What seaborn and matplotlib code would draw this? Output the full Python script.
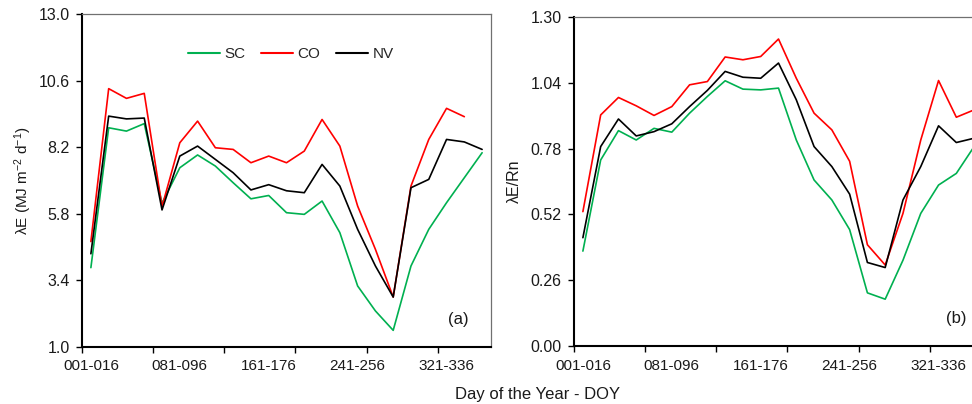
import matplotlib
matplotlib.use("Agg")
import matplotlib.pyplot as plt
import seaborn as sns
import pandas as pd

periods = ["001-016", "017-032", "033-048", "049-064", "065-080", "081-096",
           "097-112", "113-128", "129-144", "145-160", "161-176", "177-192",
           "193-208", "209-224", "225-240", "241-256", "257-272", "273-288",
           "289-304", "305-320", "321-336", "337-352", "353-365"]
tick_labels = ["001-016", "081-096", "161-176", "241-256", "321-336"]

# Panel (a): latent heat flux, MJ m-2 d-1
le_sc = [3.86, 8.90, 8.78, 9.05, 6.18, 7.46, 7.92, 7.52, 6.92, 6.34, 6.46, 5.84,
         5.78, 6.26, 5.12, 3.20, 2.30, 1.60, 3.92, 5.24, 6.20, 7.10, 8.00]
le_co = [4.80, 10.31, 9.96, 10.14, 6.06, 8.36, 9.14, 8.18, 8.12, 7.64, 7.88, 7.64,
         8.06, 9.20, 8.24, 6.08, 4.52, 2.80, 6.80, 8.48, 9.60, 9.30]
le_nv = [4.36, 9.32, 9.22, 9.25, 5.94, 7.88, 8.24, 7.76, 7.28, 6.66, 6.85, 6.63,
         6.56, 7.58, 6.80, 5.24, 3.92, 2.80, 6.74, 7.04, 8.48, 8.39, 8.12]

# Panel (b): evaporative fraction lambdaE/Rn
ef_sc = [0.375, 0.735, 0.851, 0.814, 0.860, 0.845, 0.920, 0.986, 1.048, 1.015, 1.012, 1.019,
         0.814, 0.656, 0.577, 0.460, 0.210, 0.185, 0.339, 0.524, 0.636, 0.682, 0.788]
ef_co = [0.531, 0.913, 0.982, 0.949, 0.911, 0.946, 1.032, 1.045, 1.142, 1.131, 1.144, 1.213,
         1.058, 0.920, 0.854, 0.730, 0.400, 0.320, 0.524, 0.814, 1.049, 0.904, 0.933]
ef_nv = [0.428, 0.788, 0.897, 0.830, 0.847, 0.878, 0.946, 1.010, 1.085, 1.062, 1.058, 1.118,
         0.973, 0.788, 0.709, 0.600, 0.330, 0.310, 0.577, 0.709, 0.870, 0.804, 0.821]

series = ["SC", "CO", "NV"]
colors = {"SC": "#00B050", "CO": "#FF0000", "NV": "#000000"}


def long_frame(sc, co, nv):
    rows = []
    for name, vals in zip(series, [sc, co, nv]):
        for i, v in enumerate(vals):
            rows.append({"idx": i, "period": periods[i], "value": v, "series": name})
    return pd.DataFrame(rows)


df_a = long_frame(le_sc, le_co, le_nv)
df_b = long_frame(ef_sc, ef_co, ef_nv)

sns.set_theme(style="white")
plt.rcParams["font.family"] = ["Liberation Sans", "DejaVu Sans"]
plt.rcParams["mathtext.fontset"] = "custom"
plt.rcParams["mathtext.rm"] = "Liberation Sans"
plt.rcParams["mathtext.it"] = "Liberation Sans"

fig = plt.figure(figsize=(9.72, 4.04), dpi=100)
ax_a = fig.add_axes([82 / 972, 1 - 347 / 404, 409 / 972, 333 / 404])
ax_b = fig.add_axes([574 / 972, 1 - 346 / 404, 409 / 972, 329 / 404])

for ax, df in [(ax_a, df_a), (ax_b, df_b)]:
    sns.lineplot(data=df, x="idx", y="value", hue="series", hue_order=series,
                 palette=colors, linewidth=1.2, ax=ax, legend=(ax is ax_a),
                 estimator=None, sort=True)
    ax.set_xlim(-0.5, 22.5)
    label_pos = [periods.index(t) for t in tick_labels]
    ax.set_xticks(label_pos)
    ax.set_xticklabels(tick_labels, fontsize=11, color="#1a1a1a")
    ax.set_xticks([-0.5 + 4 * k for k in range(6)], minor=True)
    ax.tick_params(axis="x", which="major", length=0, pad=9)
    ax.tick_params(axis="x", which="minor", length=4, width=1, color="black",
                   direction="out", bottom=True)
    ax.tick_params(axis="y", which="major", length=4, width=1, color="black",
                   direction="out", left=True, labelsize=11.5, labelcolor="#1a1a1a", pad=5)
    for side in ["left", "bottom"]:
        ax.spines[side].set_color("black")
        ax.spines[side].set_linewidth(1.5)
    for side in ["top", "right"]:
        ax.spines[side].set_color("#707070")
        ax.spines[side].set_linewidth(0.9)
    ax.set_xlabel("")
    ax.grid(False)

ax_a.set_ylim(1.0, 13.0)
ax_a.set_yticks([1.0, 3.4, 5.8, 8.2, 10.6, 13.0])
ax_a.set_yticklabels([f"{v:.1f}" for v in [1.0, 3.4, 5.8, 8.2, 10.6, 13.0]])
ax_a.set_ylabel(r"λE (MJ m$^{-2}$ d$^{-1}$)", fontsize=11, labelpad=3, color="#1a1a1a")

ax_b.set_ylim(0.0, 1.30)
ax_b.set_yticks([0.0, 0.26, 0.52, 0.78, 1.04, 1.30])
ax_b.set_yticklabels([f"{v:.2f}" for v in [0.0, 0.26, 0.52, 0.78, 1.04, 1.30]])
ax_b.set_ylabel("λE/Rn", fontsize=11.5, labelpad=6, color="#1a1a1a")

ax_a.text(0.92, 0.07, "(a)", transform=ax_a.transAxes, fontsize=12, ha="center", color="#1a1a1a")
ax_b.text(0.935, 0.07, "(b)", transform=ax_b.transAxes, fontsize=12, ha="center", color="#1a1a1a")

leg = ax_a.legend(loc="center", bbox_to_anchor=(0.51, 0.88), ncol=3, frameon=False,
                  handlelength=2.1, handletextpad=0.3, columnspacing=1.0, fontsize=11)
for line in leg.get_lines():
    line.set_linewidth(1.5)

fig.text(538 / 972, 1 - 395 / 404, "Day of the Year - DOY", ha="center", va="center",
         fontsize=12, color="#1a1a1a")

fig.savefig("out.png", dpi=100)
